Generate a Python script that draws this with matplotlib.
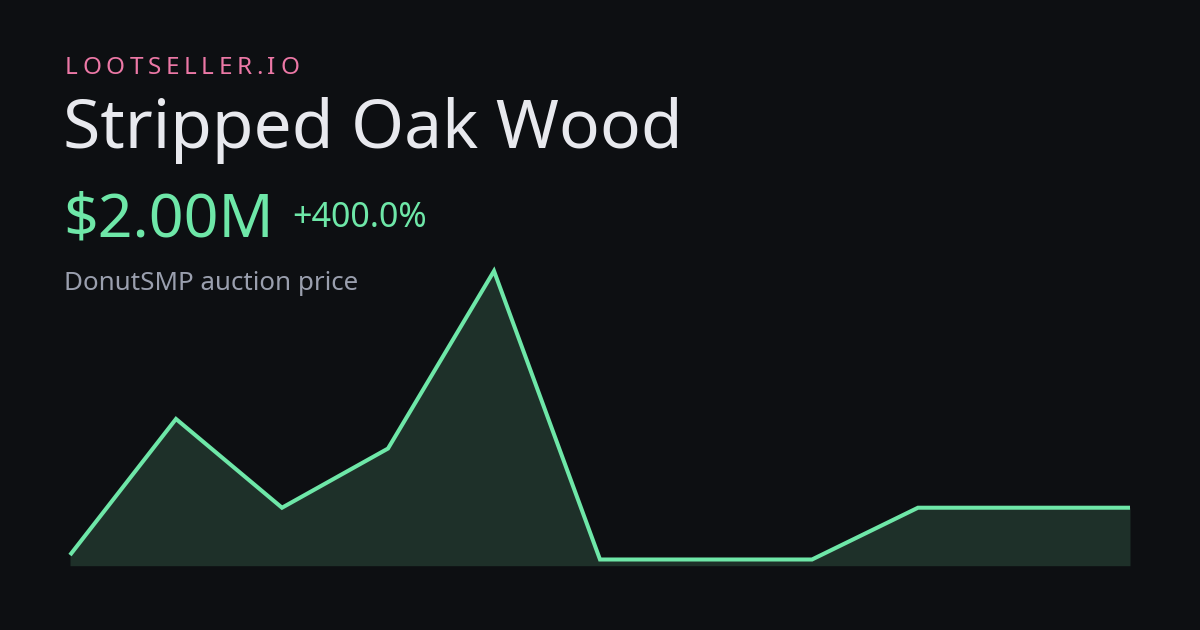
import matplotlib
matplotlib.use("Agg")
import matplotlib.pyplot as plt

# ---------------- DATA ----------------
brand = "LOOTSELLER.IO"
item_name = "Stripped Oak Wood"
price_label = "$2.00M"
change_label = "+400.0%"
subtitle = "DonutSMP auction price"

points = list(range(11))
prices = [0.4, 5.0, 2.0, 4.0, 10.0, 0.25, 0.25, 0.25, 2.0, 2.0, 2.0]  # millions

# ---------------- STYLE ----------------
BG = "#0d0f12"
GREEN = "#6ee7a8"
FILL = "#1e3029"
PINK = "#ec78a6"
WHITE = "#e8e9ee"
GREY = "#9a9fae"

W, H = 1200, 630
plt.rcParams["font.family"] = ["Noto Sans", "DejaVu Sans"]

fig = plt.figure(figsize=(W / 100, H / 100), dpi=100, facecolor=BG)


def fy(px):
    return 1 - px / H


def fx(px):
    return px / W


# ---------------- HEADER TEXT ----------------
renderer = fig.canvas.get_renderer()
x = 65
for ch in brand:
    t = fig.text(fx(x), fy(74.5), ch, color=PINK, fontsize=17.5, va="baseline")
    w = t.get_window_extent(renderer).width
    x += w + 4.6

fig.text(fx(63), fy(148), item_name, color=WHITE, fontsize=48.8, va="baseline")
fig.text(fx(63), fy(236), price_label, color=GREEN, fontsize=43.8, va="baseline")
fig.text(fx(292), fy(226.5), change_label, color=GREEN, fontsize=24.5, va="baseline")
fig.text(fx(64), fy(290), subtitle, color=GREY, fontsize=18.7, va="baseline")

# ---------------- CHART ----------------
top, bottom = 271, 565.7
ax = fig.add_axes([fx(70), fy(bottom), fx(1130 - 70), (bottom - top) / H])
ax.set_facecolor("none")
ymin = 0.25 - (bottom - 559.5) / ((559.5 - top) / (10 - 0.25))
ax.set_xlim(points[0], points[-1])
ax.set_ylim(ymin, 10)
ax.fill_between(points, prices, ymin, color=FILL, linewidth=0)
ax.plot(points, prices, color=GREEN, linewidth=2.9, clip_on=False,
        solid_joinstyle="miter", solid_capstyle="butt")
ax.axis("off")

fig.savefig("out.png", dpi=100, facecolor=BG)
